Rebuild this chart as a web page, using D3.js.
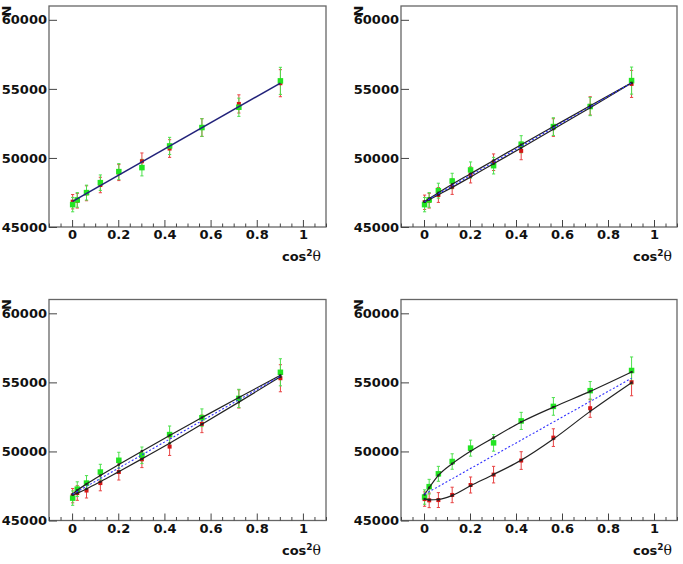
<!DOCTYPE html>
<html><head><meta charset="utf-8">
<script src="https://cdn.jsdelivr.net/npm/d3@7"></script>
<style>body{margin:0;background:#fff}</style>
</head><body>
<svg id="c" width="683" height="564"></svg>
<script>
// ---------- data ----------
const xVals = [0.0025, 0.0225, 0.0625, 0.1225, 0.2025, 0.3025, 0.4225, 0.5625, 0.7225, 0.9025];
const xTicks = [0, 0.2, 0.4, 0.6, 0.8, 1];
const yTicks = [45000, 50000, 55000, 60000];
const errGreen = [520, 530, 540, 560, 580, 600, 620, 640, 660, 980];
const errRed   = [520, 530, 540, 560, 580, 600, 640, 640, 660, 980];

// panel A (top-left)
const greenA = [46620, 46960, 47490, 48210, 49010, 49300, 50870, 52200, 53670, 55580];
const redA   = [46830, 46900, 47440, 48040, 48940, 49760, 50680, 52200, 53910, 55410];
const fitA   = [46850, 55420];           // straight fit at first / last x
// panel B (top-right)
const greenB = [46620, 46960, 47630, 48330, 49130, 49440, 50990, 52270, 53720, 55600];
const redB   = [46790, 46900, 47320, 47920, 48770, 49690, 50510, 52200, 53770, 55360];
const upperB = [46830, 47060, 47480, 48090, 48860, 49820, 50960, 52280, 53780, 55440];
const lowerB = [46830, 46980, 47330, 47870, 48620, 49580, 50720, 52080, 53640, 55420];
const midB   = [46830, 55430];
// panel C (bottom-left)
const greenC = [46620, 47270, 47710, 48510, 49360, 49720, 51220, 52440, 53840, 55730];
const redC   = [46800, 46990, 47170, 47710, 48510, 49430, 50350, 52000, 53800, 55300];
const upperC = [46920, 47190, 47640, 48260, 49050, 50020, 51160, 52450, 53910, 55510];
const lowerC = [46860, 46980, 47290, 47810, 48540, 49460, 50590, 51970, 53570, 55400];
const midC   = [46900, 55450];
// panel D (bottom-right)
const greenD = [46700, 47450, 48380, 49270, 50240, 50620, 52210, 53260, 54400, 55860];
const redD   = [46550, 46460, 46480, 46850, 47570, 48320, 49340, 51000, 53130, 55010];
const upperD = [46880, 47370, 48260, 49110, 50020, 51000, 52130, 53210, 54350, 55750];
const lowerD = [46560, 46500, 46520, 46810, 47510, 48330, 49370, 50900, 52900, 54980];
const midD   = [46900, 55300];

// ---------- layout ----------
const svg = d3.select('#c');
const panels = [
  {box: [49, 326, 6, 227],       green: greenA, red: redA, fit: fitA},
  {box: [401, 677, 6, 227],      green: greenB, red: redB, upper: upperB, lower: lowerB, mid: midB},
  {box: [49, 326, 299.5, 520.5], green: greenC, red: redC, upper: upperC, lower: lowerC, mid: midC},
  {box: [401, 677, 299.5, 520.5],green: greenD, red: redD, upper: upperD, lower: lowerD, mid: midD}
];
const GREEN = '#22e422', GREEN_ERR = '#4ee04e', RED = '#d41616', RED_ERR = '#e84444';
const labelFont = 'DejaVu Sans, sans-serif';

panels.forEach(p => {
  const [x0, x1, y0, y1] = p.box;
  const x = d3.scaleLinear().domain([-0.1, 1.1]).range([x0, x1]);
  const y = d3.scaleLinear().domain([45000, 61000]).range([y1, y0]);
  const g = svg.append('g');

  // frame
  g.append('rect').attr('x', x0).attr('y', y0).attr('width', x1 - x0).attr('height', y1 - y0)
    .attr('fill', 'none').attr('stroke', '#666').attr('stroke-width', 1.3);

  // x axis minor + major
  const minor = d3.range(-0.1, 1.1001, 0.05).filter(v => Math.abs(Math.round(v / 0.2) * 0.2 - v) > 1e-6 || Math.abs(v) > 1.05);
  const gxm = g.append('g').attr('transform', `translate(0,${y1})`)
    .call(d3.axisBottom(x).tickValues(minor).tickSize(-3.5).tickFormat(''));
  gxm.select('.domain').remove();
  const gx = g.append('g').attr('transform', `translate(0,${y1})`)
    .call(d3.axisBottom(x).tickValues(xTicks).tickSize(-7).tickPadding(3)
      .tickFormat(d => String(+d.toFixed(1))));
  gx.select('.domain').remove();
  const gy = g.append('g').attr('transform', `translate(${x0},0)`)
    .call(d3.axisLeft(y).tickValues(yTicks).tickSize(-8).tickPadding(2).tickFormat(d3.format('d')));
  gy.select('.domain').remove();
  [gx, gy, gxm].forEach(a => {
    a.selectAll('line').attr('stroke', '#444').attr('stroke-width', 1);
    a.selectAll('text').attr('font-family', labelFont).attr('font-weight', 'bold')
      .attr('font-size', 13).attr('fill', '#111');
  });

  // axis titles
  g.append('text').attr('transform', `translate(${x0 - 38},${y0 + 5}) rotate(-90)`)
    .attr('text-anchor', 'middle').attr('font-family', labelFont).attr('font-weight', 'bold')
    .attr('font-size', 13).attr('fill', '#111').text('N');
  const t = g.append('text').attr('x', x1 - 5).attr('y', y1 + 34).attr('text-anchor', 'end')
    .attr('font-family', labelFont).attr('font-weight', 'bold').attr('font-size', 13).attr('fill', '#111');
  t.append('tspan').text('cos');
  t.append('tspan').attr('font-size', 9).attr('dy', -5).text('2');
  t.append('tspan').attr('dy', 5).attr('font-weight', 'normal').attr('font-size', 14)
    .attr('font-family', 'DejaVu Serif, serif').text('θ');

  // error bars
  const drawErr = (vals, errs, col) => {
    const eg = g.append('g').attr('stroke', col).attr('stroke-width', 1);
    vals.forEach((v, i) => {
      const cx = x(xVals[i]), ylo = y(v - errs[i]), yhi = y(v + errs[i]);
      eg.append('line').attr('x1', cx).attr('x2', cx).attr('y1', ylo).attr('y2', yhi);
      eg.append('line').attr('x1', cx - 1.6).attr('x2', cx + 1.6).attr('y1', ylo).attr('y2', ylo);
      eg.append('line').attr('x1', cx - 1.6).attr('x2', cx + 1.6).attr('y1', yhi).attr('y2', yhi);
    });
  };
  drawErr(p.red, errRed, RED_ERR);
  drawErr(p.green, errGreen, GREEN_ERR);

  // markers
  g.append('g').selectAll('rect').data(p.red).join('rect')
    .attr('x', (d, i) => x(xVals[i]) - 2).attr('y', d => y(d) - 2)
    .attr('width', 4).attr('height', 4).attr('fill', RED);
  g.append('g').selectAll('rect').data(p.green).join('rect')
    .attr('x', (d, i) => x(xVals[i]) - 2.75).attr('y', d => y(d) - 2.75)
    .attr('width', 5.5).attr('height', 5.5).attr('fill', GREEN);

  const ends = [xVals[0], xVals[xVals.length - 1]];
  if (p.fit) {
    g.append('path').datum(p.fit)
      .attr('d', d3.line().x((d, i) => x(ends[i])).y(d => y(d)))
      .attr('fill', 'none').attr('stroke', '#22227a').attr('stroke-width', 1.5);
  } else {
    const curve = d3.line().x((d, i) => x(xVals[i])).y(d => y(d)).curve(d3.curveMonotoneX);
    [p.upper, p.lower].forEach(arr => {
      g.append('path').datum(arr).attr('d', curve)
        .attr('fill', 'none').attr('stroke', '#222').attr('stroke-width', 1.2);
      g.append('g').selectAll('rect').data(arr).join('rect')
        .attr('x', (d, i) => x(xVals[i]) - 1.1).attr('y', d => y(d) - 1.1)
        .attr('width', 2.2).attr('height', 2.2).attr('fill', '#222');
    });
    g.append('path').datum(p.mid)
      .attr('d', d3.line().x((d, i) => x(ends[i])).y(d => y(d)))
      .attr('fill', 'none').attr('stroke', '#3030ff').attr('stroke-width', 1.1)
      .attr('stroke-dasharray', '2,2');
  }
});
</script>
</body></html>
